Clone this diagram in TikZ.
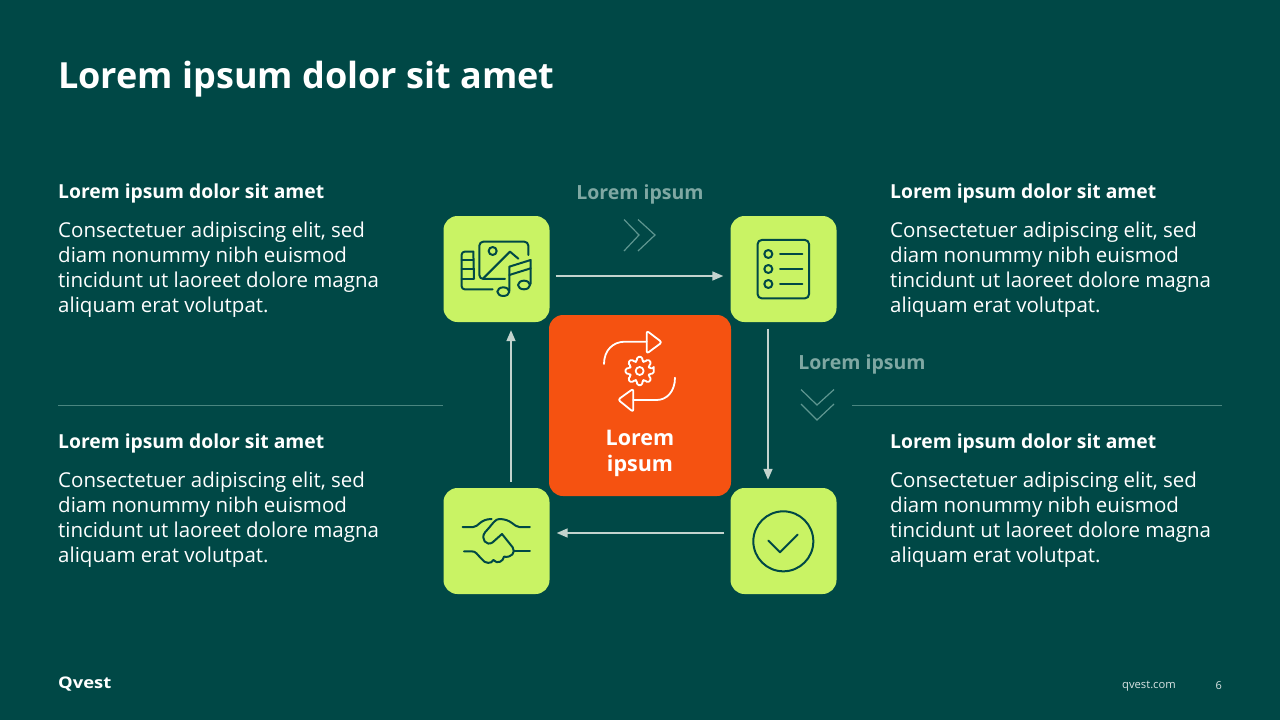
\documentclass[tikz,border=0pt]{standalone}
\usepackage{fontspec}
\setmainfont{Open Sans}
\usetikzlibrary{arrows.meta}
\definecolor{bgc}{HTML}{004846}
\definecolor{tilec}{HTML}{C9F364}
\definecolor{orangec}{HTML}{F55211}
\definecolor{mutedc}{HTML}{7FA8A3}
\definecolor{chevc}{HTML}{5F9690}
\definecolor{rulec}{HTML}{4A8680}
\definecolor{arrowc}{HTML}{C3D3CE}
\newcommand{\sz}[2]{\fontsize{#1}{#2}\selectfont}
\tikzset{
 tile/.style={fill=tilec,rounded corners=14pt,minimum width=106pt,minimum height=106pt,inner sep=0pt,draw=none},
 flow/.style={draw=arrowc,line width=1.6pt,-{Triangle[length=11pt,width=9pt]}},
 chev/.style={draw=chevc,line width=1.2pt},
 sep/.style={draw=rulec,line width=1pt},
 icon/.style={draw=bgc,line width=2pt,line cap=round,line join=round},
 wicon/.style={draw=white,line width=1.8pt,line cap=round,line join=round},
 head/.style={anchor=base west,inner sep=0pt,text=white,font=\sz{19.3}{25}\bfseries},
 body/.style={anchor=north west,inner sep=0pt,text=white,align=left,font=\sz{20.5}{25}},
 lab/.style={anchor=base,inner sep=0pt,text=mutedc,font=\sz{19.5}{25}\bfseries},
}
\begin{document}
\begin{tikzpicture}[x=1pt,y=-1pt]
\fill[bgc] (0,0) rectangle (1280,720);
\useasboundingbox (0,0) rectangle (1280,720);
\node[anchor=base west,inner sep=0pt,text=white,font=\sz{36}{40}\bfseries] (title) at (58,88) {Lorem ipsum dolor sit amet};
% text blocks
\node[head] (h1) at (58,198) {Lorem ipsum dolor sit amet};
\node[body] (b1) at (58,222) {Consectetuer adipiscing elit, sed\\diam nonummy nibh euismod\\tincidunt ut laoreet dolore magna\\aliquam erat volutpat.};
\node[head] (h2) at (890,198) {Lorem ipsum dolor sit amet};
\node[body] (b2) at (890,222) {Consectetuer adipiscing elit, sed\\diam nonummy nibh euismod\\tincidunt ut laoreet dolore magna\\aliquam erat volutpat.};
\node[head] (h3) at (58,448) {Lorem ipsum dolor sit amet};
\node[body] (b3) at (58,472) {Consectetuer adipiscing elit, sed\\diam nonummy nibh euismod\\tincidunt ut laoreet dolore magna\\aliquam erat volutpat.};
\node[head] (h4) at (890,448) {Lorem ipsum dolor sit amet};
\node[body] (b4) at (890,472) {Consectetuer adipiscing elit, sed\\diam nonummy nibh euismod\\tincidunt ut laoreet dolore magna\\aliquam erat volutpat.};
\draw[sep] (58,405.5) -- (443,405.5);
\draw[sep] (852,405.5) -- (1222,405.5);
% tiles
\node[tile] (ta) at (496.5,269) {};
\node[tile] (tb) at (783.5,269) {};
\node[tile] (tc) at (783.5,541) {};
\node[tile] (td) at (496.5,541) {};
\node[fill=orangec,rounded corners=14pt,minimum width=182pt,minimum height=181pt,inner sep=0pt] (ctr) at (640,405.5) {};
\node[anchor=base,inner sep=0pt,text=white,align=center,font=\sz{21.5}{26}\bfseries] (ct) at (640,471.5) {Lorem\\ipsum};
% connectors
\draw[flow] ([xshift=6pt,yshift=-7pt]ta.east) -- ([xshift=-7pt,yshift=-7pt]tb.west);
\draw[flow] ([xshift=-15.5pt,yshift=-7pt]tb.south) -- ([xshift=-15.5pt,yshift=8pt]tc.north);
\draw[flow] ([xshift=-6pt,yshift=8pt]tc.west) -- ([xshift=7pt,yshift=8pt]td.east);
\draw[flow] ([xshift=14.5pt,yshift=6pt]td.north) -- ([xshift=14.5pt,yshift=-8pt]ta.south);
% labels and chevrons
\node[lab] (l1) at (640,199) {Lorem ipsum};
\node[lab] (l2) at (862,369) {Lorem ipsum};
\draw[chev] (624,219.5) -- (639,235) -- (624,251);
\draw[chev] (638,219.5) -- (655,235) -- (638,251);
\draw[chev] (801,389.5) -- (817,405) -- (834,389.5);
\draw[chev] (801,404) -- (817,420) -- (834,404);
% icon A
\begin{scope}[shift={(440,210)},x=0.3333pt,y=-0.3333pt,icon]
\draw[rounded corners=4pt] (265,135) -- (265,95) -- (118,95) -- (118,207) -- (195,207);
\draw (158,123) circle[radius=12];
\draw (130,205) -- (210,125) -- (235,146);
\draw[rounded corners=3pt] (100,125) -- (65,125) -- (65,238) -- (158,238);
\draw (100,125) -- (102,205);
\draw (65,150) -- (100,150) (65,178) -- (101,178) (65,207) -- (102,207);
\draw (190,245) ellipse[x radius=18,y radius=13];
\draw (252,225) ellipse[x radius=18,y radius=13];
\draw (208,243) -- (208,170) -- (272,150) -- (272,222);
\draw (208,195) -- (272,175);
\end{scope}
% icon B
\begin{scope}[shift={(725,210)},x=0.3333pt,y=-0.3333pt,icon]
\draw[rounded corners=4pt] (98,90) rectangle (252,265);
\foreach \yy in {132,177,222}{
 \draw (130,\yy) circle[radius=12];
 \draw (165,\yy) -- (232,\yy);
}
\end{scope}
% icon C
\begin{scope}[shift={(725,484)},x=0.3333pt,y=-0.3333pt,icon]
\draw (175,172) circle[radius=90];
\draw (130,170) -- (165,205) -- (218,152);
\end{scope}
% icon D
\begin{scope}[shift={(440,484)},x=0.3333pt,y=-0.3333pt,icon]
\draw (68,129) -- (100,129) .. controls (115,129) and (120,105) .. (155,105);
\draw (270,129) -- (238,129) .. controls (222,129) and (215,105) .. (178,105)
 .. controls (165,105) and (160,118) .. (135,145) .. controls (120,165) and (140,188) .. (158,175) -- (186,150)
 -- (218,190) .. controls (228,205) and (215,222) .. (192,218) .. controls (190,232) and (172,242) .. (160,228)
 .. controls (155,240) and (135,240) .. (125,225) .. controls (110,210) and (108,202) .. (95,202) -- (72,202);
\draw (222,202) -- (270,202);
\end{scope}
% centre icon
\begin{scope}[shift={(545,310)},x=0.3333pt,y=-0.3333pt,wicon]
\draw (177,162) .. controls (177,120) and (205,95) .. (240,95) -- (305,95);
\draw[rounded corners=2.5pt] (305,62) -- (351,97) -- (305,131) -- cycle;
\draw (390,203) .. controls (390,245) and (365,270) .. (335,270) -- (265,270);
\draw[rounded corners=2.5pt] (265,236) -- (219,269) -- (265,306) -- cycle;
\draw (284,183) circle[radius=12];
\draw[rounded corners=1.5pt] ({284+43*cos(-10)},{183+43*sin(-10)})
 \foreach \k in {0,...,7}{
  -- ({284+43*cos(45*\k+10)},{183+43*sin(45*\k+10)}) -- ({284+30*cos(45*\k+17)},{183+30*sin(45*\k+17)}) -- ({284+30*cos(45*\k+28)},{183+30*sin(45*\k+28)}) -- ({284+43*cos(45*\k+35)},{183+43*sin(45*\k+35)})
 } -- cycle;
\end{scope}
% footer
\node[anchor=base west,inner sep=0pt,text=white,font=\sz{16}{18}\bfseries\addfontfeature{FakeStretch=1.15}] (logo) at (58,688) {Qvest};
\node[anchor=base west,inner sep=0pt,text=white!85!bgc,font=\sz{11.2}{13}] (web) at (1122,688) {qvest.com};
\node[anchor=base east,inner sep=0pt,text=white!85!bgc,font=\sz{11}{13}] (pg) at (1222,689) {6};
\end{tikzpicture}
\end{document}
